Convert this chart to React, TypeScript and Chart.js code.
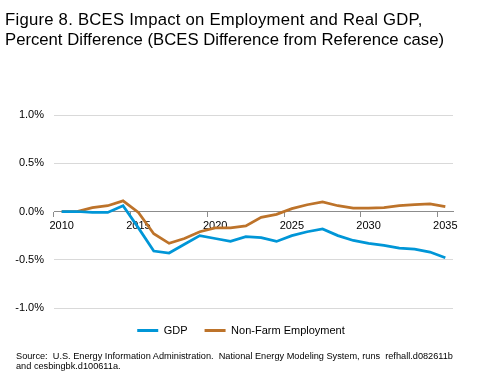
import React, { useEffect, useRef } from "react";
import { Chart, registerables } from "chart.js";

Chart.register(...registerables);

const years = ["2010","2011","2012","2013","2014","2015","2016","2017","2018","2019","2020","2021","2022","2023","2024","2025","2026","2027","2028","2029","2030","2031","2032","2033","2034","2035"];
const gdp = [0, 0, -0.01, -0.01, 0.06, -0.17, -0.41, -0.43, -0.34, -0.25, -0.28, -0.31, -0.26, -0.27, -0.31, -0.25, -0.21, -0.18, -0.25, -0.30, -0.33, -0.35, -0.38, -0.39, -0.42, -0.48];
const employment = [0, 0, 0.04, 0.06, 0.11, -0.01, -0.23, -0.33, -0.28, -0.21, -0.17, -0.17, -0.15, -0.06, -0.03, 0.03, 0.07, 0.10, 0.06, 0.035, 0.035, 0.04, 0.06, 0.07, 0.08, 0.05];
const seriesNames = ["GDP", "Non-Farm Employment"];
const titleLines = ["Figure 8. BCES Impact on Employment and Real GDP,", "Percent Difference (BCES Difference from Reference case)"];
const sourceLines = ["Source:  U.S. Energy Information Administration.  National Energy Modeling System, runs  refhall.d082611b", "and cesbingbk.d100611a."];

const FONT = "'Liberation Sans', Arial, sans-serif";
const BLUE = "#0096D7";
const ORANGE = "#BD732A";

const shiftLegend = {
  id: "shiftLegend",
  afterLayout(chart: any) {
    const l = chart.legend;
    if (l) {
      l.left += 14.5;
      l.right += 14.5;
    }
  },
};

export default function App() {
  const ref = useRef<HTMLCanvasElement | null>(null);
  useEffect(() => {
    if (!ref.current) return;
    const chart = new Chart(ref.current, {
      type: "line",
      data: {
        labels: years,
        datasets: [
          { label: seriesNames[0], data: gdp, borderColor: BLUE, backgroundColor: BLUE, borderWidth: 2.75, pointRadius: 0, tension: 0 },
          { label: seriesNames[1], data: employment, borderColor: ORANGE, backgroundColor: ORANGE, borderWidth: 2.75, pointRadius: 0, tension: 0 },
        ],
      },
      plugins: [shiftLegend],
      options: {
        responsive: false,
        animation: false,
        layout: { padding: { left: 0, right: 40, top: 115, bottom: 31 } },
        plugins: {
          title: { display: false },
          tooltip: { enabled: false },
          legend: {
            position: "bottom",
            labels: {
              font: { family: FONT, size: 11 },
              color: "#000",
              boxWidth: 21,
              boxHeight: 3,
              padding: 17,
              generateLabels: (c: any) =>
                (Chart.defaults.plugins.legend.labels.generateLabels as any)(c).map((l: any) => ({ ...l, lineWidth: 0 })),
            },
          },
        },
        scales: {
          x: {
            type: "category",
            position: { y: 0 } as any,
            offset: true,
            grid: {
              offset: true,
              drawOnChartArea: false,
              drawTicks: true,
              tickLength: 5,
              color: (ctx: any) => (ctx.index % 5 === 0 && ctx.index < years.length ? "#8c8c8c" : "rgba(0,0,0,0)"),
            },
            border: { display: true, color: "#8c8c8c", width: 1 },
            ticks: {
              autoSkip: false,
              maxRotation: 0,
              padding: 3,
              color: "#000",
              font: { family: FONT, size: 11 },
              callback: (_v: any, i: number) => (i % 5 === 0 ? years[i] : ""),
            },
          },
          y: {
            min: -1,
            max: 1,
            afterFit: (s: any) => { s.width = 54; },
            grid: { color: "#d9d9d9", drawTicks: false, lineWidth: 1 },
            border: { display: false },
            ticks: {
              stepSize: 0.5,
              padding: 10,
              color: "#000",
              font: { family: FONT, size: 11 },
              callback: (v: any) => Number(v).toFixed(1) + "%",
            },
          },
        },
      },
    });
    return () => chart.destroy();
  }, []);

  return (
    <div style={{ position: "fixed", left: 0, top: 0, width: 493, height: 377, background: "#fff", fontFamily: FONT }}>
      <canvas ref={ref} width={493} height={377} style={{ position: "absolute", left: 0, top: 0, width: 493, height: 377 }} />
      <div style={{ position: "absolute", left: 5, top: 10, fontSize: 16.7, lineHeight: "20px", color: "#000", whiteSpace: "pre" }}>
        <div style={{ letterSpacing: "0.24px" }}>{titleLines[0]}</div>
        <div>{titleLines[1]}</div>
      </div>
      <div style={{ position: "absolute", left: 16, top: 351, fontSize: 9.2, lineHeight: "10px", color: "#000", whiteSpace: "pre" }}>
        {sourceLines.map((t, i) => <div key={i}>{t}</div>)}
      </div>
    </div>
  );
}
